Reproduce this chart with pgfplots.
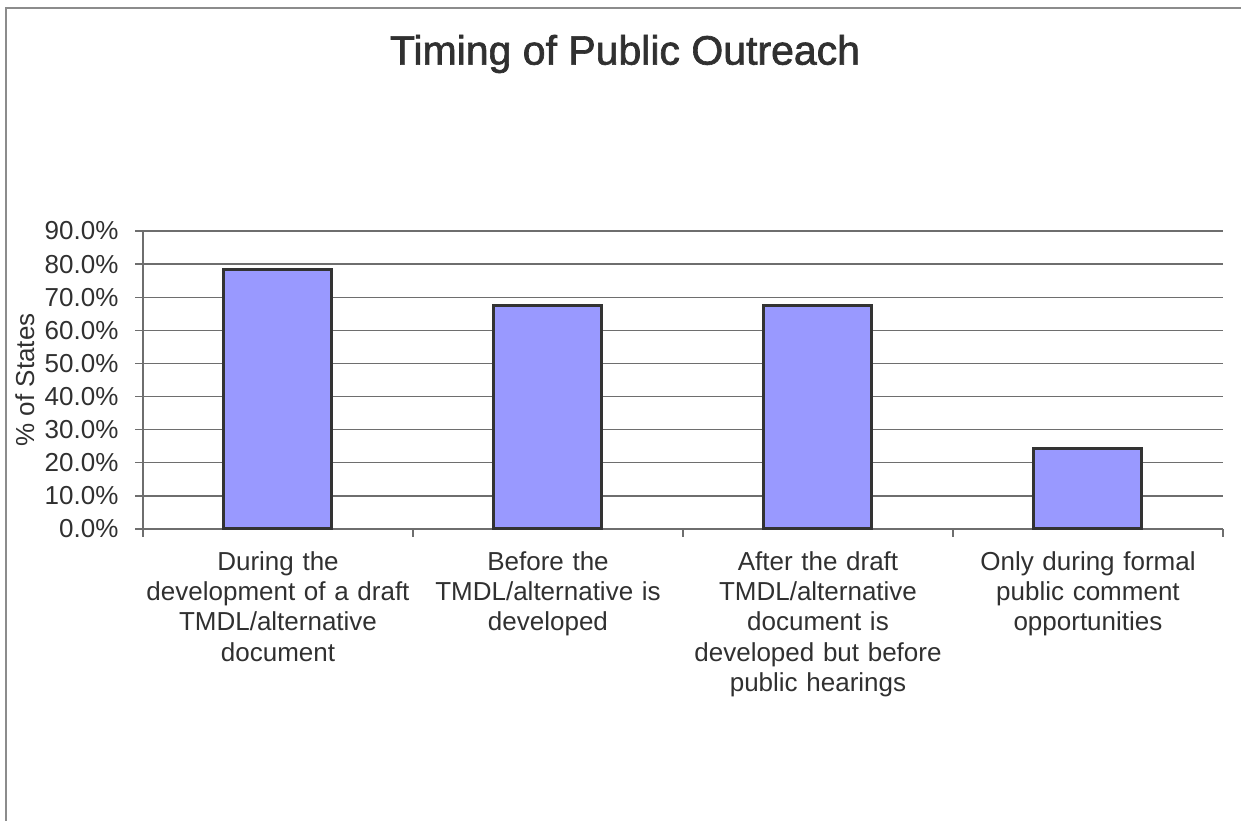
\documentclass[border=0pt]{standalone}
\usepackage{fontspec}
\setmainfont{Liberation Sans}
\newfontfamily\titlefont[FakeBold=1.6]{Liberation Sans}
\usepackage{pgfplots}
\pgfplotsset{compat=1.18}
\definecolor{barfill}{HTML}{9999FF}
\definecolor{baredge}{HTML}{333333}
\definecolor{framegray}{HTML}{8C8C8C}
\definecolor{gridgray}{HTML}{6E6E6E}
\definecolor{textgray}{HTML}{303030}
\begin{document}
\begin{tikzpicture}[x=1pt,y=1pt]
\useasboundingbox (0,0) rectangle (1241,821);
% chart area frame (left and top edges)
\draw[line width=2pt, color=framegray] (6,0) -- (6,812.5) -- (1241,812.5);
\node[font=\titlefont\fontsize{41}{48}\selectfont, text=textgray] at (625,767) {Timing of Public Outreach};
\begin{axis}[
  at={(143pt,292pt)}, anchor=south west,
  scale only axis, width=1080pt, height=298pt,
  xmin=0, xmax=4, ymin=0, ymax=90,
  axis lines=left, axis line style={draw=gridgray, line width=1.4pt, -},
  xtick={0.5,1.5,2.5,3.5},
  xticklabels={
    {During the\\development of a draft\\TMDL/alternative\\document},
    {Before the\\TMDL/alternative is\\developed},
    {After the draft\\TMDL/alternative\\document is\\developed but before\\public hearings},
    {Only during formal\\public comment\\opportunities}},
  minor xtick={0,1,2,3,4},
  major x tick style={draw=none},
  ytick={0,10,...,90},
  yticklabel={\pgfmathprintnumber[fixed,fixed zerofill,precision=1]{\tick}\%},
  /pgf/number format/assume math mode=true,
  tick align=outside, major tick length=8pt, minor tick length=8pt,
  tick style={draw=gridgray, line width=1.4pt},
  ymajorgrids, grid style={draw=gridgray, line width=1.4pt},
  yticklabel style={font=\fontsize{26}{30.3}\selectfont, text=textgray, xshift=-13pt},
  xticklabel style={font=\fontsize{26}{30.3}\selectfont, text=textgray, text width=280pt, align=center, yshift=-11pt},
  ylabel={\% of States},
  ylabel style={font=\fontsize{26}{31}\selectfont, text=textgray, at={(axis description cs:-0.1093,0.5)}, anchor=center},
  clip=false,
]
\addplot[ybar, bar width=0.4, fill=barfill, draw=baredge, line width=3pt]
  coordinates {(0.5,78.4) (1.5,67.6) (2.5,67.6) (3.5,24.3)};
\end{axis}
\end{tikzpicture}
\end{document}
